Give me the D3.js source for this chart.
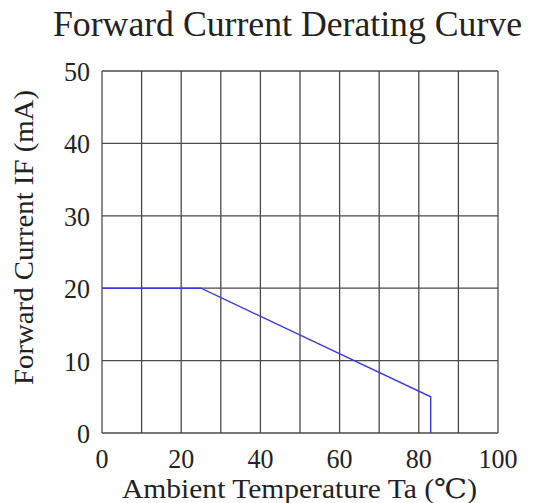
<!DOCTYPE html>
<html>
<head>
<meta charset="utf-8">
<script src="https://cdn.jsdelivr.net/npm/d3@7"></script>
<style>
  html, body { margin: 0; padding: 0; background: #fff; }
  svg { display: block; }
  text { font-family: "Liberation Serif", "DejaVu Serif", serif; fill: #222; }
</style>
</head>
<body>
<script>
// Derating curve: ambient temperature (°C) vs. max forward current (mA)
const tempC = [0, 25, 83, 83];
const currentMA = [20, 20, 5, 0];
const xTicks = [0, 20, 40, 60, 80, 100];
const yTicks = [0, 10, 20, 30, 40, 50];
const xGrid = d3.range(0, 101, 10);
const yGrid = d3.range(0, 51, 10);

const W = 533, H = 503;
const plot = { left: 102, right: 498, top: 71, bottom: 433 };

const svg = d3.select("body").append("svg")
  .attr("width", W).attr("height", H);

const x = d3.scaleLinear().domain([0, 100]).range([plot.left, plot.right]);
const y = d3.scaleLinear().domain([0, 50]).range([plot.bottom, plot.top]);

// grid
svg.append("g").selectAll("line").data(xGrid).join("line")
  .attr("x1", d => x(d)).attr("x2", d => x(d))
  .attr("y1", y(0)).attr("y2", y(50))
  .attr("stroke", d => d === 0 ? "#8a8a8a" : "#4a4a4a")
  .attr("stroke-width", d => d === 0 ? 2 : 1.3);
svg.append("g").selectAll("line").data(yGrid).join("line")
  .attr("x1", x(0)).attr("x2", x(100))
  .attr("y1", d => y(d)).attr("y2", d => y(d))
  .attr("stroke", "#4a4a4a")
  .attr("stroke-width", 1.3);

// y tick labels
svg.append("g").selectAll("text").data(yTicks).join("text")
  .attr("x", x(0) - 12).attr("y", d => y(d) + 10)
  .attr("text-anchor", "end")
  .attr("font-size", 28)
  .attr("textLength", d => String(d).length * 13)
  .attr("lengthAdjust", "spacingAndGlyphs")
  .text(d => d);

// x tick labels
svg.append("g").selectAll("text").data(xTicks).join("text")
  .attr("x", d => x(d)).attr("y", 468)
  .attr("text-anchor", "middle")
  .attr("font-size", 28)
  .attr("textLength", d => String(d).length * 13)
  .attr("lengthAdjust", "spacingAndGlyphs")
  .text(d => d);

// derating line
const line = d3.line().x((d, i) => x(tempC[i])).y(d => y(d));
svg.append("path")
  .datum(currentMA)
  .attr("d", line)
  .attr("fill", "none")
  .attr("stroke", "#3c3cdc")
  .attr("stroke-width", 1.4);

// title
svg.append("text")
  .attr("x", 53).attr("y", 36)
  .attr("font-size", 35)
  .attr("textLength", 469).attr("lengthAdjust", "spacingAndGlyphs")
  .text("Forward Current Derating Curve");

// x axis title
svg.append("text")
  .attr("x", 122).attr("y", 498)
  .attr("font-size", 27)
  .attr("textLength", 355).attr("lengthAdjust", "spacingAndGlyphs")
  .text("Ambient Temperature Ta (℃)");

// y axis title
svg.append("text")
  .attr("transform", "translate(33,385) rotate(-90)")
  .attr("font-size", 27)
  .attr("textLength", 295).attr("lengthAdjust", "spacingAndGlyphs")
  .text("Forward Current IF (mA)");
</script>
</body>
</html>
